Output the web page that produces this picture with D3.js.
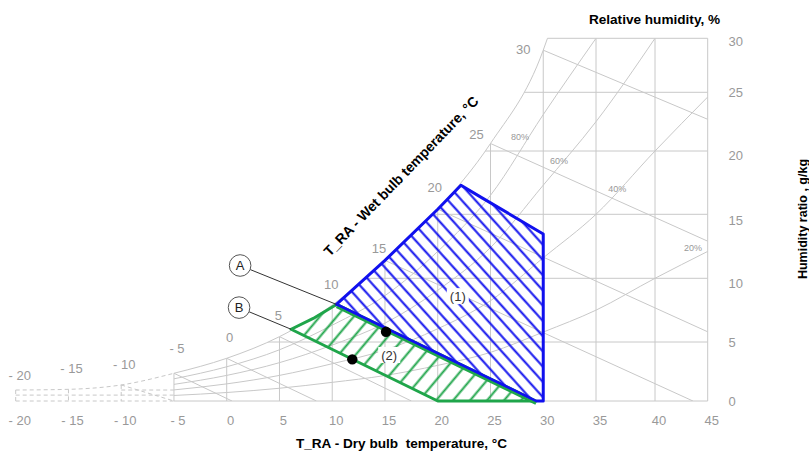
<!DOCTYPE html>
<html><head><meta charset="utf-8">
<script src="https://cdn.jsdelivr.net/npm/d3@7"></script>
<style>
body{margin:0;background:#fff;}
svg{display:block;font-family:"Liberation Sans",Arial,sans-serif;}
</style></head><body>
<svg id="c" width="809" height="453"></svg>
<script>
// ---------- data ----------
const dryBulbTicks = [-20,-15,-10,-5,0,5,10,15,20,25,30,35,40,45];
const humidityTicks = [0,5,10,15,20,25,30];
const wetBulbLabels = [-20,-15,-10,-5,0,5,10,15,20,25,30];
const rhNames = ["80%","60%","40%","20%"];
// saturation curve (dry bulb °C, humidity ratio g/kg)
const satT = [-20,-15,-10,-5,0,5,10,15,20,25,30,30.4];
const satW = [0.93,0.99,1.36,2.35,3.62,5.42,7.9,11.4,15.4,20.64,28.9,30];
// relative humidity curves
const rhT = [-5,0,5,10,15,20,25,30,35,40,45];
const rh80 = [1.88,2.9,4.34,6.32,8.64,12.1,16.5,23.1,30];
const rh60 = [1.41,2.17,3.25,4.74,6.48,9.06,12.4,17.3,22.5,30];
const rh40 = [0.94,1.45,2.17,3.16,4.32,6.04,8.24,11.6,15,20,24.6];
const rh20 = [0.47,0.72,1.08,1.58,2.16,3.02,4.12,5.78,7.5,10,12.1];
const rhLabelT = [27.8,31.5,36.8,43.6];
const rhLabelW = [21.2,19.2,17.0,12.4];
// wet bulb lines: start on saturation, end on chart border
const wbStartT = [-5,0,5,10,15,20,25,30];
const wbStartW = [2.35,3.62,5.42,7.9,11.4,15.4,20.64,28.9];
const wbEndT = [0.5,8.5,17.5,29.3,43.6,45,45,45];
const wbEndW = [0,0,0,0,0,5.8,12.9,22.7];
// dashed extension below -5 °C
const dashFromT = [-20,-20,-15,-10,-10,-20,-10];
const dashFromW = [0,0.93,0.99,1.36,1.36,0.5,0.93];
const dashToT = [-5,-20,-15,-10,-5,-5,-5];
const dashToW = [0,0,0,0,0,0.5,0.93];
// zone (1) and zone (2)
const zone1T = [10.4,15,20,22.2,24.2,30,30,29.3];
const zone1W = [7.95,11.4,15.4,17.3,16.3,13.46,0,0];
const zone2T = [6.1,8.2,10.4,29.3,20];
const zone2W = [6.0,6.85,7.95,0,0];
const pointT = [15.1,11.9];
const pointW = [5.8,3.53];

// ---------- scales ----------
const svg = d3.select("#c");
const x = d3.scaleLinear().domain([-20,35,40,45]).range([15.7,596,655,707.7]);
const y = d3.scaleLinear().domain(humidityTicks).range([401,342,278.3,214.3,151,92.3,38.3]);
const yLab = d3.scaleLinear().domain(humidityTicks).range([401.7,342.7,283.3,220,155.7,92,41.7]);
const fmt = v => v < 0 ? "- " + Math.abs(v) : String(v);
const GRID = "#c8c8c8", LAB = "#999", BLUE = "#1010ee", GREEN = "#1fa54a";

const zip = (a,b) => a.map((v,i)=>[v,b[i]]);
const lin = d3.line().x(d=>x(d[0])).y(d=>y(d[1]));
const crv = d3.line().x(d=>x(d[0])).y(d=>y(d[1])).curve(d3.curveMonotoneX);

const sat = zip(satT,satW);
const satSolid = sat.filter(d=>d[0]>=-5);
const satDash = sat.filter(d=>d[0]<=-5);

const defs = svg.append("defs");
defs.append("clipPath").attr("id","area").append("path")
  .attr("d", crv(satSolid) + `L${x(45)},${y(30)}L${x(45)},${y(0)}L${x(-5)},${y(0)}Z`);
const pb = defs.append("pattern").attr("id","hb").attr("patternUnits","userSpaceOnUse")
  .attr("width",20).attr("height",10.2).attr("patternTransform","rotate(48)");
pb.append("line").attr("x1",-2).attr("x2",22).attr("y1",5.1).attr("y2",5.1)
  .attr("stroke",BLUE).attr("stroke-width",2);
const pg = defs.append("pattern").attr("id","hg").attr("patternUnits","userSpaceOnUse")
  .attr("width",20).attr("height",13).attr("patternTransform","rotate(-50)");
pg.append("line").attr("x1",-2).attr("x2",22).attr("y1",6.5).attr("y2",6.5)
  .attr("stroke",GREEN).attr("stroke-width",2);

// ---------- grid (clipped to chart area) ----------
const g = svg.append("g").attr("clip-path","url(#area)")
  .attr("fill","none").attr("stroke",GRID).attr("stroke-width",1);
dryBulbTicks.filter(t=>t>-5&&t<45).forEach(t=>g.append("path").attr("d",lin([[t,30],[t,0]])));
humidityTicks.filter(w=>w>0&&w<30).forEach(w=>g.append("path").attr("d",lin([[-5,w],[45,w]])));
wbStartT.forEach((t,i)=>g.append("path").attr("d",lin([[t,wbStartW[i]],[wbEndT[i],wbEndW[i]]])));
[rh80,rh60,rh40,rh20].forEach(arr=>g.append("path").attr("d",crv(zip(rhT.slice(0,arr.length),arr))));

// borders
const b = svg.append("g").attr("fill","none").attr("stroke",GRID).attr("stroke-width",1);
b.append("path").attr("d",crv(satSolid));
b.append("path").attr("d",lin([[30.4,30],[45,30],[45,0],[-5,0],[-5,2.35]]));
// dashed extension
const dsh = svg.append("g").attr("fill","none").attr("stroke",GRID).attr("stroke-width",1).attr("stroke-dasharray","4,3");
dsh.append("path").attr("d",crv(satDash));
dashFromT.forEach((t,i)=>dsh.append("path").attr("d",lin([[t,dashFromW[i]],[dashToT[i],dashToW[i]]])));

// ---------- axis labels ----------
const xa = svg.append("g").attr("transform","translate(3.5,415.4)")
  .call(d3.axisBottom(x).tickValues(dryBulbTicks).tickFormat(fmt).tickSize(0).tickPadding(0));
xa.select(".domain").remove();
xa.selectAll("text").attr("fill",LAB).attr("font-size",13).attr("font-family","Liberation Sans, Arial");
const ya = svg.append("g").attr("transform","translate(728.5,0)")
  .call(d3.axisRight(yLab).tickValues(humidityTicks).tickSize(0).tickPadding(0));
ya.select(".domain").remove();
ya.selectAll("text").attr("fill",LAB).attr("font-size",13).attr("font-family","Liberation Sans, Arial");

// wet bulb labels along saturation curve
const wbOff = t => t>=30?[-20,-1]:t>=25?[-14,-9]:t===20?[-3,-22]:t===-5?[3,-25]:t===-20?[4,-15]:t<5?[3,-21]:t===15?[-6,-12]:[-1,-21];
wetBulbLabels.forEach(t=>{
  const i = satT.indexOf(t), o = wbOff(t);
  svg.append("text").attr("x",x(t)+o[0]).attr("y",y(satW[i])+o[1]).attr("dy","0.35em")
    .attr("text-anchor","middle").attr("font-size",13).attr("fill",LAB).text(fmt(t));
});
rhNames.forEach((n,i)=>svg.append("text").attr("x",x(rhLabelT[i])).attr("y",y(rhLabelW[i]))
  .attr("dy","0.35em").attr("text-anchor","middle").attr("font-size",9).attr("fill",LAB).text(n));

// ---------- zones ----------
const z2 = zip(zone2T,zone2W), z1 = zip(zone1T,zone1W);
svg.append("path").attr("d",lin(z2)+"Z").attr("fill","url(#hg)").attr("stroke",GREEN)
  .attr("stroke-width",3).attr("stroke-linejoin","round");
svg.append("path").attr("d",lin(z1)+"Z").attr("fill","url(#hb)").attr("stroke",BLUE)
  .attr("stroke-width",3).attr("stroke-linejoin","round");
svg.append("path").attr("d",lin([[zone2T[2],zone2W[2]],[zone2T[3],zone2W[3]]]))
  .attr("transform","translate(0,2.6)").attr("stroke",GREEN).attr("stroke-width",2.4).attr("fill","none");

// zone labels
[["(1)",21.9,8.6],["(2)",15.4,3.9]].forEach(d=>{
  svg.append("rect").attr("x",x(d[1])-11).attr("y",y(d[2])-8).attr("width",22).attr("height",16).attr("fill","#fff");
  svg.append("text").attr("x",x(d[1])).attr("y",y(d[2])).attr("dy","0.35em").attr("text-anchor","middle")
    .attr("font-size",13).attr("fill","#333").text(d[0]);
});

// points
pointT.forEach((t,i)=>svg.append("circle").attr("cx",x(t)).attr("cy",y(pointW[i])).attr("r",5.2).attr("fill","#000"));

// callouts A / B
[["A",1.27,11.0,zone1T[0],zone1W[0]],["B",1.17,7.7,zone2T[0],zone2W[0]]].forEach(d=>{
  const cx=x(d[1]), cy=y(d[2]), tx=x(d[3]), ty=y(d[4]), r=10.8;
  const L=Math.hypot(tx-cx,ty-cy);
  svg.append("line").attr("x1",cx+(tx-cx)/L*r).attr("y1",cy+(ty-cy)/L*r).attr("x2",tx).attr("y2",ty)
    .attr("stroke","#333").attr("stroke-width",1);
  svg.append("circle").attr("cx",cx).attr("cy",cy).attr("r",r).attr("fill","#fff").attr("stroke","#555").attr("stroke-width",1);
  svg.append("text").attr("x",cx).attr("y",cy).attr("dy","0.36em").attr("text-anchor","middle")
    .attr("font-size",13).attr("fill","#222").text(d[0]);
});

// ---------- titles ----------
svg.append("text").attr("x",401.5).attr("y",443).attr("dy","0.35em").attr("text-anchor","middle")
  .attr("font-size",13.6).attr("font-weight","bold").style("white-space","pre").text("T_RA - Dry bulb  temperature, °C");
svg.append("text").attr("x",654.5).attr("y",19).attr("dy","0.35em").attr("text-anchor","middle")
  .attr("font-size",13.6).attr("font-weight","bold").text("Relative humidity, %");
svg.append("text").attr("transform","translate(401,176) rotate(-46)").attr("dy","0.35em").attr("text-anchor","middle")
  .attr("font-size",14).attr("font-weight","bold").text("T_RA - Wet bulb temperature, °C");
svg.append("text").attr("transform","translate(802.5,219) rotate(-90)").attr("dy","0.35em").attr("text-anchor","middle")
  .attr("font-size",12.5).attr("font-weight","bold").text("Humidity ratio , g/kg");
</script>
</body></html>
